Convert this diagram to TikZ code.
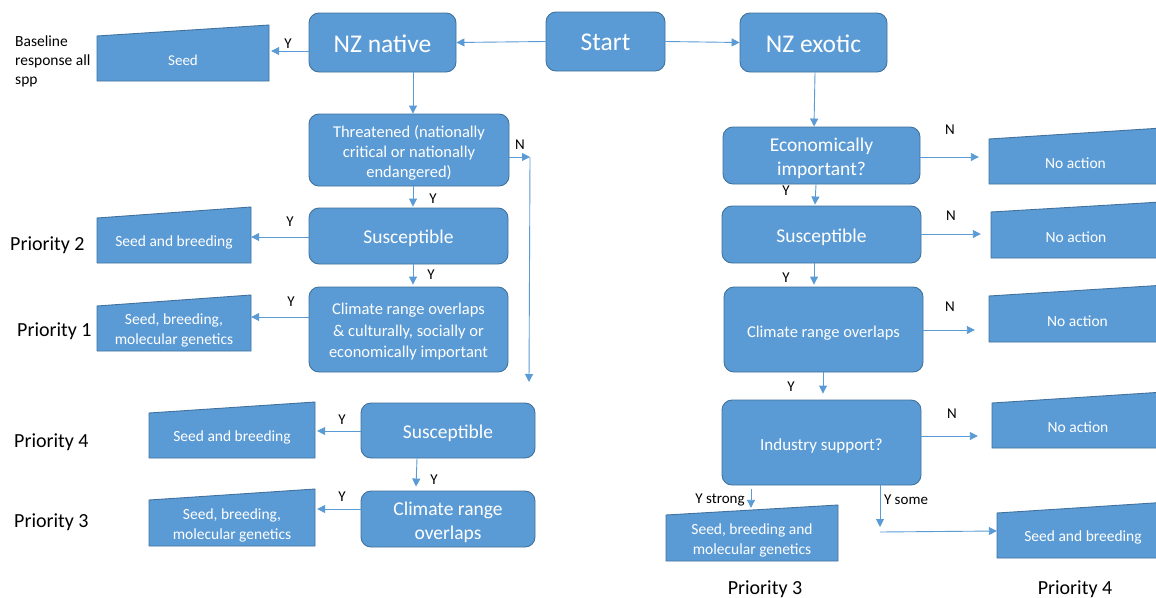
\documentclass[tikz,border=0pt]{standalone}
\usepackage{fontspec}
\setmainfont{Carlito}
\usetikzlibrary{arrows.meta,calc}
\definecolor{boxfill}{HTML}{5B9BD5}
\definecolor{boxline}{HTML}{41719C}
\definecolor{arrcol}{HTML}{5B9BD5}
\newcommand\fs[2]{\fontsize{#1}{#2}\selectfont}
% rounded box: name, x1, y1, x2, y2, font, text, text drop
\newcommand\rbox[8]{%
  \node[rbox, minimum width={#4-#2}, minimum height={#5-#3}] (#1) at ({(#2+#4)/2},{(#3+#5)/2}) {};
  \node[btext, font=#6] (#1-t) at ([yshift=-#8pt]#1.center) {#7};}
% manual input: name, x1, x2, ytopleft, ytopright, ybottom, font, text
\newcommand\minput[8]{%
  \filldraw[fill=boxfill, draw=boxline, line width=0.9pt] (#2,#4) -- (#3,#5) -- (#3,#6) -- (#2,#6) -- cycle;
  \node[mshape, minimum width={#3-#2}, minimum height={#6-#5}] (#1) at ({(#2+#3)/2},{(#5+#6)/2}) {};
  \node[btext, font=#7] (#1-t) at ({(#2+#3)/2},{(#4+#6)/2+2}) {#8};}
\begin{document}
\begin{tikzpicture}[x=1pt,y=-1pt,
  rbox/.style={draw=boxline, fill=boxfill, rounded corners=10pt, line width=0.9pt, inner sep=0pt},
  mshape/.style={inner sep=0pt},
  btext/.style={text=white, align=center, inner sep=0pt},
  lbl/.style={font=\fs{15}{17}, inner sep=0pt},
  plbl/.style={font=\fs{20}{24}, inner sep=0pt},
  arrow/.style={draw=arrcol, line width=0.9pt, -{Triangle[length=8pt,width=8pt]}}]
\fill[white] (0,0) rectangle (1156,597);
\useasboundingbox (0,0) rectangle (1156,597);

% rounded boxes
\rbox{start}{546}{12}{665}{71}{\fs{25.5}{30}}{Start}{1}
\rbox{native}{309}{13}{456}{72}{\fs{25.5}{30}}{NZ native}{1}
\rbox{exotic}{740}{13}{887}{72}{\fs{25.5}{30}}{NZ exotic}{1}
\rbox{thr}{309}{114}{509}{186}{\fs{16.5}{20}}{Threatened (nationally\\critical or nationally\\endangered)}{3}
\rbox{susa}{309}{208}{508}{264}{\fs{19.5}{24}}{Susceptible}{2.5}
\rbox{clima}{309}{287}{508}{372}{\fs{16.5}{21.5}}{Climate range overlaps\\\& culturally, socially or\\economically important}{2.5}
\rbox{susb}{361}{403}{535}{458}{\fs{19.5}{24}}{Susceptible}{3}
\rbox{climb}{361}{491}{535}{547}{\fs{19.5}{24}}{Climate range\\overlaps}{3}
\rbox{econ}{723}{127}{920}{184}{\fs{19.5}{24}}{Economically\\important?}{3}
\rbox{susr}{722}{206}{921}{263}{\fs{19.5}{24}}{Susceptible}{2.5}
\rbox{climr}{724}{287}{923}{372}{\fs{16.5}{20}}{Climate range overlaps}{3.5}
\rbox{ind}{722}{400}{921}{485}{\fs{17}{20}}{Industry support?}{3}

% manual input boxes
\minput{seedo}{97}{269}{36}{25}{81}{\fs{15}{19}}{Seed}
\minput{ptwo}{97}{251}{218}{207}{263}{\fs{15.5}{20}}{Seed and breeding}
\minput{pone}{97}{251}{306}{295}{351}{\fs{15.5}{20}}{Seed, breeding,\\molecular genetics}
\minput{pfour}{149}{315}{413}{402}{458}{\fs{15.5}{20}}{Seed and breeding}
\minput{pthree}{149}{315}{500}{489}{546}{\fs{15.5}{20}}{Seed, breeding,\\molecular genetics}
\minput{naa}{989}{1162}{139}{128}{184}{\fs{15.5}{20}}{No action}
\minput{nab}{991}{1161}{212}{202}{258}{\fs{15.5}{20}}{No action}
\minput{nac}{989}{1166}{296}{285}{342}{\fs{15.5}{20}}{No action}
\minput{nad}{992}{1164}{403}{392}{448}{\fs{15.5}{20}}{No action}
\minput{pthreer}{666}{838}{515}{505}{561}{\fs{15.5}{20}}{Seed, breeding and\\molecular genetics}
\minput{pfourr}{997}{1169}{513}{502}{558}{\fs{15.5}{20}}{Seed and breeding}

% side texts
\node[font=\fs{15.5}{19}, align=left, anchor=west, inner sep=0pt] (base) at (15,61) {Baseline\\response all\\spp};
\node[plbl, anchor=west] (ptwol) at (10,245) {Priority 2};
\node[plbl, anchor=west] (ponel) at (17,331) {Priority 1};
\node[plbl, anchor=west] (pfourl) at (14,442) {Priority 4};
\node[plbl, anchor=west] (pthreel) at (14,522) {Priority 3};
\node[plbl] (pthreerl) at (765,589) {Priority 3};
\node[plbl] (pfourrl) at (1075,589) {Priority 4};

% connectors, left
\draw[arrow] (start.west) -- (native.east);
\draw[arrow] (start.east) -- (exotic.west);
\draw[arrow] (native.west |- 0,51) -- ([xshift=2pt]seedo.east |- 0,51);
\draw[arrow] (native.south -| 413,0) -- (thr.north -| 413,0);
\draw[arrow] (thr.south -| 413,0) -- ([yshift=1pt]susa.north -| 413,0);
\coordinate (ncorner) at (530,157);
\coordinate (nend) at (529,382);
\draw[arrow] (thr.east |- ncorner) -- (ncorner);
\draw[arrow] (ncorner) -- (nend);
\draw[arrow] (susa.west |- 0,237) -- (ptwo.east |- 0,237);
\draw[arrow] (susa.south -| 413,0) -- ([yshift=2pt]clima.north -| 413,0);
\draw[arrow] (clima.west |- 0,317) -- (pone.east |- 0,317);
\draw[arrow] (susb.west |- 0,431) -- ([xshift=2pt]pfour.east |- 0,431);
\draw[arrow] (susb.south -| 417,0) -- ([yshift=4pt]climb.north -| 416,0);
\draw[arrow] (climb.west |- 0,509) -- ([xshift=2pt]pthree.east |- 0,509);

% connectors, right
\draw[arrow] (exotic.south -| 815,0) -- (econ.north -| 814,0);
\draw[arrow] (econ.east |- 0,157) -- ([xshift=-10pt]naa.west |- 0,157);
\draw[arrow] (econ.south -| 816,0) -- ([yshift=1pt]susr.north -| 815,0);
\draw[arrow] (susr.east |- 0,234) -- ([xshift=-10pt]nab.west |- 0,234);
\draw[arrow] (susr.south -| 814,0) -- ([yshift=2pt]climr.north -| 814,0);
\draw[arrow] (climr.east |- 0,330) -- ([xshift=-14pt]nac.west |- 0,330);
\draw[arrow] (climr.south -| 823,0) -- ([yshift=6pt]ind.north -| 823,0);
\draw[arrow] (ind.east |- 0,436) -- ([xshift=-14pt]nad.west |- 0,436);
\draw[arrow] ([yshift=-4pt]ind.south -| 751,0) -- ([yshift=-3pt]pthreer.north -| 751,0);
\coordinate (somecorner) at (880,527);
\draw[arrow] (ind.south -| 880,0) -- (somecorner);
\draw[arrow] ([yshift=-5pt]somecorner) -- (pfourr.west |- 0,531);

% labels
\node[lbl] (ya) at (288,44) {Y};
\node[lbl] (na) at (520,145) {N};
\node[lbl] (yb) at (433,199) {Y};
\node[lbl] (yc) at (290,222) {Y};
\node[lbl] (yd) at (431,275) {Y};
\node[lbl] (ye) at (291,302) {Y};
\node[lbl] (yf) at (342,420) {Y};
\node[lbl] (yg) at (434,480) {Y};
\node[lbl] (yh) at (342,497) {Y};
\node[lbl] (nb) at (950,130) {N};
\node[lbl] (yi) at (786,191) {Y};
\node[lbl] (nc) at (951,216) {N};
\node[lbl] (yj) at (786,278) {Y};
\node[lbl] (nd) at (950,307) {N};
\node[lbl] (yk) at (791,387) {Y};
\node[lbl] (ne) at (952,414) {N};
\node[lbl] (ystrong) at (720,500) {Y strong};
\node[lbl] (ysome) at (906,500) {Y some};
\end{tikzpicture}
\end{document}
